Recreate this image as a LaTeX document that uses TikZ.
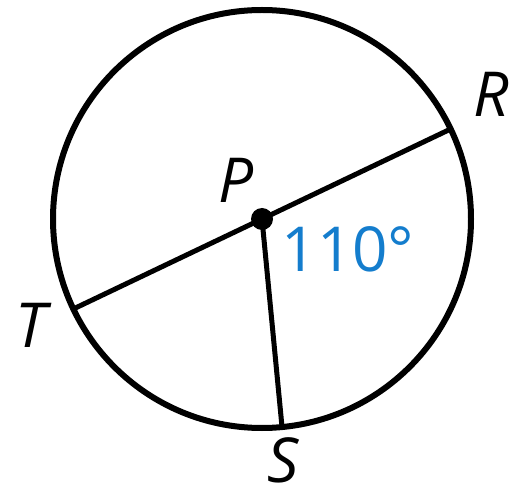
\documentclass[tikz,border=0pt]{standalone}
\usepackage{fontspec}
\setmainfont{Open Sans}
\usetikzlibrary{calc}
\definecolor{anglblue}{RGB}{20,125,205}
\begin{document}
\begin{tikzpicture}[x=0.5pt,y=0.5pt]
\tikzset{
    rim/.style={draw,line width=3pt},
    chord/.style={line width=2.5pt},
    ptlabel/.style={font=\fontsize{31}{31}\selectfont\itshape,inner sep=0pt},
    measure/.style={font=\fontsize{31}{31}\selectfont,text=anglblue,inner sep=0pt}
}
\useasboundingbox (0,0) rectangle (514,493);
\node[circle,fill,inner sep=0pt,minimum size=11pt] (P) at (262,274) {};
\draw[rim] (P.center) circle (209);
\coordinate (R) at ($(P.center)+(25.5:209)$);
\coordinate (T) at ($(P.center)+(205.5:209)$);
\coordinate (S) at ($(P.center)+(-84.5:209)$);
\draw[chord] (T) -- (R);
\draw[chord] (P.center) -- (S);

\node[ptlabel] (Plab) at (236,313) {P};
\node[ptlabel] (Rlab) at (491,399) {R};
\node[ptlabel] (Tlab) at (31,168) {T};
\node[ptlabel] (Slab) at (283,33) {S};
\node[measure] (ang) at (348,244) {110°};
\end{tikzpicture}
\end{document}
